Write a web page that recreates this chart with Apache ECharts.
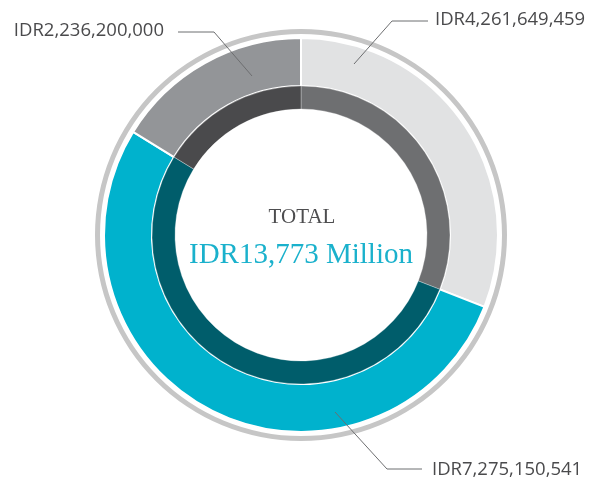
<!DOCTYPE html>
<html>
<head>
<meta charset="utf-8">
<script src="https://cdn.jsdelivr.net/npm/echarts@6/dist/echarts.min.js"></script>
<style>
  html, body { margin: 0; padding: 0; background: #fff; }
  #chart { width: 593px; height: 479px; }
</style>
</head>
<body>
<div id="chart"></div>
<script>
// 数据
const categories = ["Light grey", "Cyan", "Dark grey"];
const amounts = [4261649459, 7275150541, 2236200000];
const totalLabel = "IDR13,773 Million";

const outerColors = ["#e1e2e3", "#00b2cd", "#939598"];
const innerColors = ["#6e6f71", "#005d6b", "#4a4a4c"];

// label positions and leader lines (annotation only)
const labelSpots = [
  { x: 435, y: 20, line: [[354, 64], [392, 21], [428, 21]] },
  { x: 432, y: 470, line: [[335, 412], [387, 469], [422, 469]] },
  { x: 164, y: 31, align: "right", line: [[252, 76], [214, 32], [178, 32]] },
];

const chartDom = document.getElementById("chart");
const myChart = echarts.init(chartDom);

const center = [301, 235];

const option = {
  animation: false,
  graphic: [
    {
      type: "text",
      x: 302,
      y: 217,
      style: {
        text: "TOTAL",
        fill: "#4d4d4f",
        font: "21px 'Liberation Serif'",
        textAlign: "center",
        textVerticalAlign: "middle",
      },
    },
    {
      type: "text",
      x: 301,
      y: 255,
      style: {
        text: totalLabel,
        fill: "#1ab1cc",
        font: "29px 'Liberation Serif'",
        textAlign: "center",
        textVerticalAlign: "middle",
      },
    },
  ],
  series: [
    {
      // thin grey frame
      type: "pie",
      center: center,
      radius: [201, 206],
      silent: true,
      label: { show: false },
      labelLine: { show: false },
      data: [{ value: 1, itemStyle: { color: "#c6c6c6" } }],
    },
    {
      type: "pie",
      center: center,
      radius: [149, 197],
      startAngle: 90,
      clockwise: true,
      silent: true,
      itemStyle: { borderColor: "#fff", borderWidth: 2 },
      label: { show: false },
      labelLine: { show: false },
      data: categories.map((c, i) => ({
        name: c,
        value: amounts[i],
        itemStyle: { color: outerColors[i] },
      })),
    },
    {
      type: "pie",
      center: center,
      radius: [126, 149],
      startAngle: 90,
      clockwise: true,
      silent: true,
      itemStyle: { borderColor: "rgba(255,255,255,0.3)", borderWidth: 1 },
      label: { show: false },
      labelLine: { show: false },
      data: categories.map((c, i) => ({
        name: c,
        value: amounts[i],
        itemStyle: { color: innerColors[i] },
      })),
    },
    {
      // transparent copy on top, carries the labels so the leader lines sit above the ring
      type: "pie",
      z: 5,
      center: center,
      radius: [149, 197],
      startAngle: 90,
      clockwise: true,
      silent: true,
      avoidLabelOverlap: false,
      itemStyle: { color: "rgba(0,0,0,0)" },
      label: {
        show: true,
        position: "outside",
        color: "#4a4a4c",
        fontSize: 18.5,
        fontFamily: "Open Sans",
        formatter: (p) => "IDR" + p.value.toLocaleString("en-US"),
      },
      labelLine: { show: true, lineStyle: { color: "#6d6e70", width: 1 } },
      labelLayout: (p) => {
        const s = labelSpots[p.dataIndex];
        return {
          x: s.x,
          y: s.y,
          align: s.align || "left",
          verticalAlign: "middle",
          labelLinePoints: s.line,
        };
      },
      data: categories.map((c, i) => ({ name: c, value: amounts[i] })),
    },
  ],
};

option && myChart.setOption(option);
</script>
</body>
</html>
